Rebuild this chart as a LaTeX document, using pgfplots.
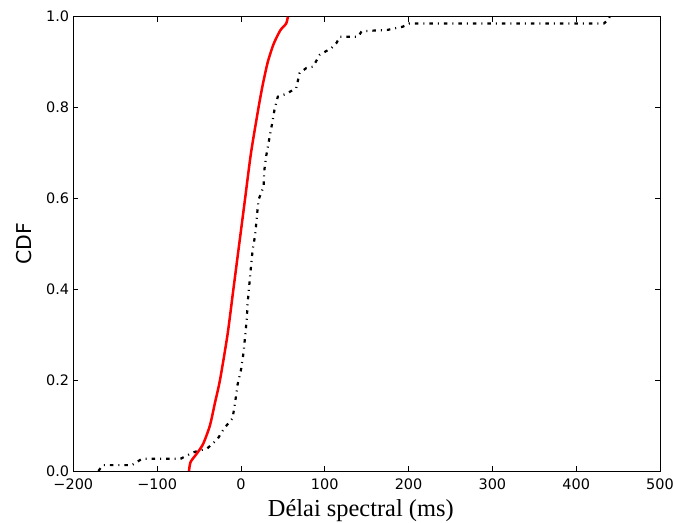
\documentclass[border=0pt]{standalone}
\usepackage{pgfplots}
\pgfplotsset{compat=1.18}
\usepackage{fontspec}
\setmainfont{DejaVu Sans}
\newfontfamily\seriffont{Liberation Serif}
\begin{document}
\begin{tikzpicture}
\begin{axis}[
  scale only axis, width=586.7bp, height=454.3bp,
  xmin=-200, xmax=500, ymin=0, ymax=1,
  xtick={-200,-100,0,100,200,300,400,500},
  xticklabels={−200,−100,0,100,200,300,400,500},
  ytick={0,0.2,0.4,0.6,0.8,1},
  yticklabels={0.0,0.2,0.4,0.6,0.8,1.0},
  tick align=inside, major tick length=5bp,
  tick style={black, line width=0.8bp},
  axis line style={line width=1bp},
  ticklabel style={font=\fontsize{14.5}{14.5}\selectfont},
  xticklabel style={anchor=north, inner sep=0pt, yshift=-7.5bp},
  yticklabel style={anchor=east, inner sep=0pt, xshift=-4bp},
  xlabel={Délai spectral (ms)},
  xlabel style={font=\seriffont\fontsize{24.5}{24.5}\selectfont, at={(axis description cs:0.49,-0.1006)}, anchor=base},
  ylabel={CDF},
  ylabel style={font=\fontsize{20.5}{20.5}\selectfont, at={(axis description cs:-0.0835,0.5)}, anchor=center},
]
\addplot[black, line width=2.2bp, dash pattern=on 3.5bp off 5bp on 1bp off 5bp] coordinates {
(-170,0.0) (-165,0.013) (-130,0.013) (-118,0.027) (-72,0.027) (-57,0.041)
(-40,0.05) (-28,0.07) (-20,0.094) (-10,0.116) (-7,0.15) (-4,0.19) (0,0.222)
(3,0.259) (5,0.296) (7,0.336) (8,0.369) (10,0.41) (12,0.45) (14,0.487)
(17,0.52) (19,0.56) (21,0.597) (27,0.626) (28,0.663) (30,0.692) (34,0.733)
(38,0.773) (40,0.795) (44,0.824) (54,0.83) (66,0.843) (70,0.876) (78,0.887)
(86,0.89) (94,0.916) (108,0.931) (114,0.942) (118,0.956) (140,0.956)
(144,0.968) (175,0.971) (193,0.978) (201,0.985) (433,0.985) (438,0.993) (440,1.0)
};
\addplot[red, line width=2.5bp, smooth, tension=0.4] coordinates {
(-62,0.0) (-60,0.02) (-52,0.04) (-45,0.06) (-37,0.10) (-31,0.15) (-25,0.20)
(-16,0.30) (-9,0.40) (-2,0.50) (5,0.60) (12,0.70) (21,0.80) (26,0.85)
(32,0.90) (39,0.94) (47,0.97) (54,0.985) (56,1.0)
};
\end{axis}
\pgfresetboundingbox
\useasboundingbox ([xshift=-73.3bp,yshift=-51bp]current axis.south west) rectangle ([xshift=13bp,yshift=16.7bp]current axis.north east);
\end{tikzpicture}
\end{document}
